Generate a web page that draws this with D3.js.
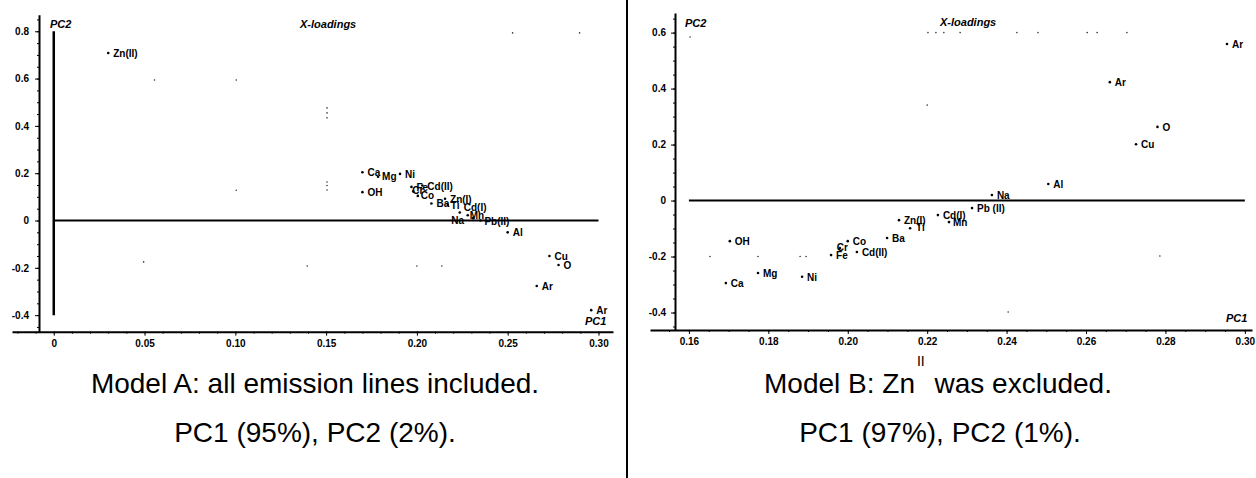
<!DOCTYPE html>
<meta charset="utf-8">

<style type="text/css">
    body {
        margin: 0;
        background: #fff;
    }
    svg text {
        font-family: "Liberation Sans", Arial, sans-serif;
        fill: #000;
    }
    .tick text {
        font-size: 10px;
        font-weight: bold;
    }
    .domain, .tick line {
        stroke: #000;
    }
    .pt-label {
        font-size: 10px;
        font-weight: bold;
    }
    .ax-title {
        font-size: 11px;
        font-weight: bold;
        font-style: italic;
    }
    .caption {
        font-size: 28px;
    }
</style>

<body></body>

<script src="https://cdn.jsdelivr.net/npm/d3@7"></script>

<script>

// ---- Model A : all emission lines ----
var namesA = ["Zn(II)", "Ca", "Mg", "Ni", "OH", "Fe", "Cd(II)", "Cr", "Co", "Ba", "Zn(I)", "Ti",
              "Cd(I)", "Mn", "Na", "Pb(II)", "Al", "Cu", "O", "Ar", "Ar"];
var pc1A = [0.030, 0.170, 0.1786, 0.1907, 0.170, 0.197, 0.203, 0.198, 0.2005, 0.208, 0.2155, 0.217,
            0.2236, 0.228, 0.231, 0.235, 0.250, 0.273, 0.278, 0.266, 0.296];
var pc2A = [0.708, 0.204, 0.185, 0.197, 0.120, 0.142, 0.148, 0.123, 0.104, 0.072, 0.092, 0.066,
            0.034, 0.022, 0.010, 0.000, -0.050, -0.150, -0.188, -0.277, -0.379];
// faint unlabelled points
var minorPc1A = [0.0555, 0.1005, 0.1005, 0.1505, 0.1505, 0.1505, 0.1505, 0.1505, 0.1505,
                 0.0495, 0.1396, 0.200, 0.2137, 0.2527, 0.2896];
var minorPc2A = [0.594, 0.594, 0.128, 0.476, 0.455, 0.434, 0.163, 0.148, 0.129,
                 -0.175, -0.192, -0.192, -0.192, 0.793, 0.793];
var xTicksA = [0, 0.05, 0.10, 0.15, 0.20, 0.25, 0.30];
var yTicksA = [-0.4, -0.2, 0, 0.2, 0.4, 0.6, 0.8];

// ---- Model B : Zn(II) excluded ----
var namesB = ["Ar", "Ar", "O", "Cu", "Al", "Na", "Pb (II)", "Cd(I)", "Mn", "Zn(I)", "Ti", "Ba",
              "Cd(II)", "Co", "Cr", "Fe", "Ni", "Mg", "Ca", "OH"];
var pc1B = [0.2955, 0.266, 0.278, 0.2726, 0.2505, 0.2363, 0.2313, 0.2227, 0.2255, 0.2129, 0.2157, 0.2099,
            0.2023, 0.200, 0.198, 0.1958, 0.1885, 0.1774, 0.1693, 0.1703];
var pc2B = [0.559, 0.423, 0.263, 0.201, 0.059, 0.020, -0.027, -0.052, -0.077, -0.070, -0.099, -0.134,
            -0.184, -0.145, -0.170, -0.195, -0.272, -0.259, -0.295, -0.145];
var minorPc1B = [0.1603, 0.2202, 0.2222, 0.2242, 0.2283, 0.2426, 0.2479, 0.2603, 0.2628, 0.2703,
                 0.2200, 0.1653, 0.1774, 0.1880, 0.1895, 0.2404, 0.2786];
var minorPc2B = [0.584, 0.6, 0.6, 0.6, 0.6, 0.6, 0.6, 0.6, 0.6, 0.6,
                 0.341, -0.2, -0.2, -0.2, -0.2, -0.398, -0.198];
var xTicksB = [0.16, 0.18, 0.20, 0.22, 0.24, 0.26, 0.28, 0.30];
var yTicksB = [-0.4, -0.2, 0, 0.2, 0.4, 0.6];

// label nudges where names pile up (pixels)
var nudge = {
    "A:Mg": [4, 3], "A:Cr": [-1, 3], "A:Co": [3, 3], "A:Ti": [3, 4],
    "A:Mn": [2, 4], "A:Na": [-22, 6], "A:Pb(II)": [4, 4], "A:Cd(I)": [4, -1],
    "B:Mn": [4, 4], "B:Ti": [6, 3], "B:Cr": [-3, 3]
};

var W = 1256, H = 478;

var svg = d3.select("body").append("svg")
    .attr("width", W)
    .attr("height", H);

function fmtY(d) { return d === 0 ? "0" : d.toFixed(1); }
function fmtX(d) { return d === 0 ? "0" : d.toFixed(2); }

function drawPanel(p) {
    var g = svg.append("g");

    var x = d3.scaleLinear().domain(p.xDomain).range(p.xRange);
    var y = d3.scaleLinear().domain(p.yDomain).range(p.yRange);

    // minor ticks first, majors on top
    var xMinor = d3.range(p.xMinor[0], p.xMinor[1] + 1e-9, p.xMinor[2]);
    var yMinor = d3.range(p.yMinor[0], p.yMinor[1] + 1e-9, p.yMinor[2]);

    g.append("g")
        .attr("transform", "translate(0," + p.yRange[0] + ")")
        .call(d3.axisBottom(x).tickValues(xMinor).tickSize(2).tickFormat(""))
        .call(function(a) { a.select(".domain").remove(); });

    g.append("g")
        .attr("transform", "translate(" + p.yAxisX + ",0)")
        .call(d3.axisLeft(y).tickValues(yMinor).tickSize(2).tickFormat(""))
        .call(function(a) { a.select(".domain").remove(); });

    var xa = g.append("g")
        .attr("transform", "translate(0," + p.yRange[0] + ")")
        .call(d3.axisBottom(x).tickValues(p.xTicks).tickSize(4).tickSizeOuter(0)
              .tickPadding(4).tickFormat(fmtX));
    xa.select(".domain").attr("stroke-width", 2);

    var ya = g.append("g")
        .attr("transform", "translate(" + p.yAxisX + ",0)")
        .call(d3.axisLeft(y).tickValues(p.yTicks).tickSize(4).tickSizeOuter(0)
              .tickPadding(p.yPad).tickFormat(fmtY));
    ya.select(".domain").attr("stroke-width", 2);

    // PC2 = 0 line
    g.append("line")
        .attr("x1", x(p.hLine[0])).attr("x2", x(p.hLine[1]))
        .attr("y1", y(0)).attr("y2", y(0))
        .attr("stroke", "#000").attr("stroke-width", 2);

    // PC1 = 0 line (only visible in model A)
    if (p.vLine) {
        g.append("line")
            .attr("x1", x(0)).attr("x2", x(0))
            .attr("y1", y(p.vLine[0])).attr("y2", y(p.vLine[1]))
            .attr("stroke", "#000").attr("stroke-width", 2.5);
    }

    var minor = p.minorX.map(function(d, i) { return {x: d, y: p.minorY[i]}; });
    g.selectAll("circle.minor")
        .data(minor)
        .enter().append("circle")
        .attr("class", "minor")
        .attr("cx", function(d) { return x(d.x); })
        .attr("cy", function(d) { return y(d.y); })
        .attr("r", 0.8)
        .attr("fill", "#333");

    var pts = p.names.map(function(n, i) { return {name: n, x: p.pc1[i], y: p.pc2[i]}; });

    var pt = g.selectAll("g.pt")
        .data(pts)
        .enter().append("g")
        .attr("class", "pt")
        .attr("transform", function(d) { return "translate(" + x(d.x) + "," + y(d.y) + ")"; });

    pt.append("circle")
        .attr("r", 1.3)
        .attr("fill", "#000");

    pt.append("text")
        .attr("class", "pt-label")
        .attr("x", function(d) { var n = nudge[p.key + ":" + d.name]; return n ? n[0] : 5; })
        .attr("y", function(d) { var n = nudge[p.key + ":" + d.name]; return n ? n[1] : 4; })
        .text(function(d) { return d.name; });

    g.append("text").attr("class", "ax-title")
        .attr("x", p.pc2Label[0]).attr("y", p.pc2Label[1]).text("PC2");
    g.append("text").attr("class", "ax-title")
        .attr("x", p.pc1Label[0]).attr("y", p.pc1Label[1]).text("PC1");
    g.append("text").attr("class", "ax-title")
        .attr("x", p.titlePos[0]).attr("y", p.titlePos[1]).text("X-loadings");
}

drawPanel({
    key: "A",
    names: namesA, pc1: pc1A, pc2: pc2A, minorX: minorPc1A, minorY: minorPc2A,
    xDomain: [-0.023, 0.308], xRange: [12, 613],
    yDomain: [-0.47, 0.87], yRange: [331.7, 14.7],
    yAxisX: 39, yPad: 6,
    xTicks: xTicksA, yTicks: yTicksA,
    xMinor: [-0.02, 0.30, 0.01], yMinor: [-0.45, 0.85, 0.05],
    hLine: [0, 0.30], vLine: [-0.4, 0.8],
    pc2Label: [50, 28], pc1Label: [585, 325], titlePos: [300, 28]
});

drawPanel({
    key: "B",
    names: namesB, pc1: pc1B, pc2: pc2B, minorX: minorPc1B, minorY: minorPc2B,
    xDomain: [0.1502, 0.3018], xRange: [650, 1252],
    yDomain: [-0.4625, 0.67], yRange: [330, 13],
    yAxisX: 675, yPad: 5,
    xTicks: xTicksB, yTicks: yTicksB,
    xMinor: [0.155, 0.30, 0.005], yMinor: [-0.45, 0.65, 0.05],
    hLine: [0.16, 0.30], vLine: null,
    pc2Label: [685, 27], pc1Label: [1226, 322], titlePos: [940, 26]
});

// separator between the two models
svg.append("line")
    .attr("x1", 627).attr("x2", 627)
    .attr("y1", 0).attr("y2", H)
    .attr("stroke", "#000").attr("stroke-width", 2);

// captions
svg.append("text").attr("class", "caption")
    .attr("x", 315).attr("y", 393).attr("text-anchor", "middle")
    .text("Model A: all emission lines included.");
svg.append("text").attr("class", "caption")
    .attr("x", 315).attr("y", 442).attr("text-anchor", "middle")
    .text("PC1 (95%), PC2 (2%).");

var capB = svg.append("text").attr("class", "caption")
    .attr("x", 938).attr("y", 393).attr("text-anchor", "middle");
capB.append("tspan").text("Model B: Zn");
capB.append("tspan").attr("dy", -27).attr("dx", 2).style("font-size", "14px").text("II");
capB.append("tspan").attr("dy", 27).attr("dx", 2).text(" was excluded.");

svg.append("text").attr("class", "caption")
    .attr("x", 940).attr("y", 442).attr("text-anchor", "middle")
    .text("PC1 (97%), PC2 (1%).");

</script>
